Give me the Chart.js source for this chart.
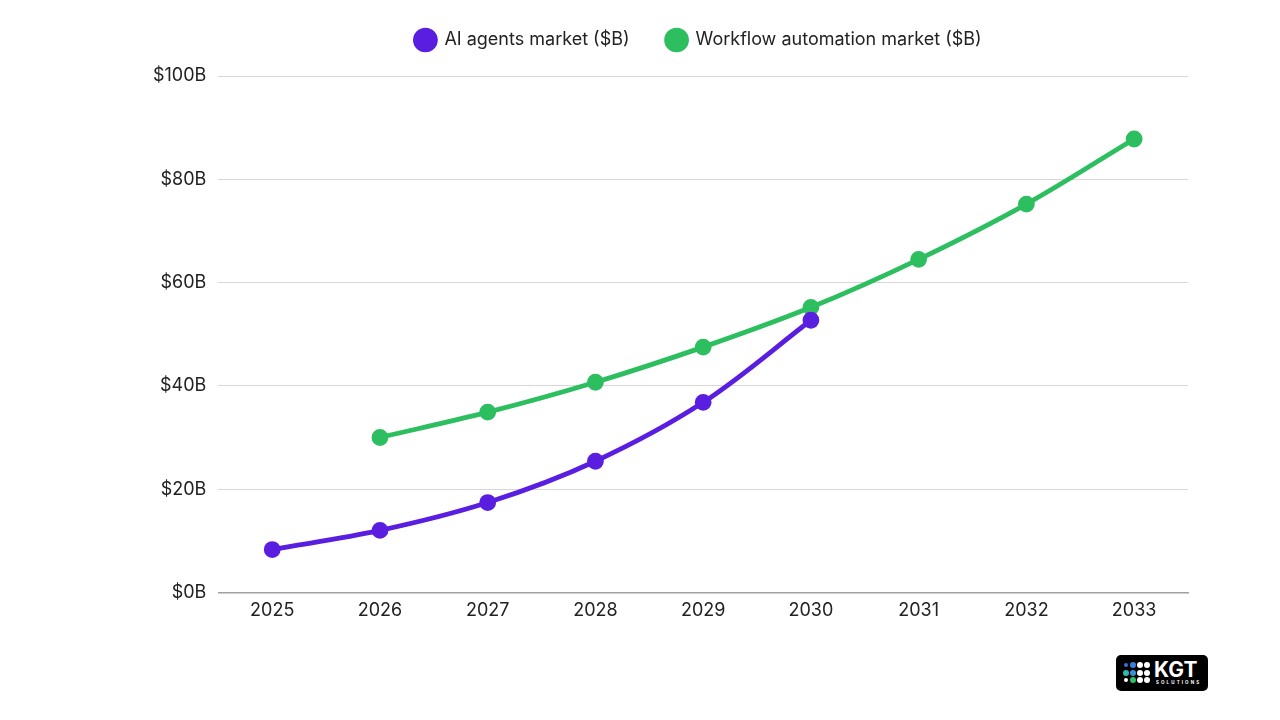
<!DOCTYPE html>
<html>
<head>
<meta charset="utf-8">
<script src="https://cdn.jsdelivr.net/npm/chart.js@4"></script>
<style>
  html,body{margin:0;padding:0;background:#fff;}
  #wrap{position:absolute;left:0;top:0;width:1280px;height:720px;}
  #logo{position:absolute;left:1116px;top:655px;width:92px;height:36px;background:#000;border-radius:5px;
    font-family:Inter, "DejaVu Sans", sans-serif;color:#fff;}
  #logo .dots{position:absolute;left:7px;top:7px;width:28px;height:22px;}
  #logo .dots span{position:absolute;width:6px;height:6px;border-radius:50%;background:#fff;}
  #logo .k{position:absolute;left:38px;top:4px;font-size:21px;font-weight:700;letter-spacing:0px;line-height:22px;}
  #logo .s{position:absolute;left:40px;top:25px;font-size:4.5px;font-weight:700;letter-spacing:2.1px;line-height:6px;}
</style>
</head>
<body>
<div id="wrap"><canvas id="c" width="1280" height="720"></canvas></div>
<div id="logo">
  <div class="dots">
    <span style="left:1px;top:1px;width:4px;height:4px;background:#3a6fd8"></span><span style="left:7px;top:0;background:#3a7fe0"></span><span style="left:14px;top:0"></span><span style="left:21px;top:0"></span>
    <span style="left:0;top:8px;background:#2eb8b0"></span><span style="left:7px;top:8px;background:#3a8fd8"></span><span style="left:14px;top:8px"></span><span style="left:21px;top:8px"></span>
    <span style="left:1px;top:16px;width:4px;height:4px"></span><span style="left:7px;top:15px;background:#2ec06a"></span><span style="left:14px;top:15px"></span><span style="left:21px;top:15px"></span>
  </div>
  <div class="k">KGT</div>
  <div class="s">SOLUTIONS</div>
</div>
<script>
const years = ["2025","2026","2027","2028","2029","2030","2031","2032","2033"];
const aiAgents = [8.3, 12.0, 17.4, 25.4, 36.8, 52.7, null, null, null];
const workflow = [null, 30.0, 34.9, 40.7, 47.5, 55.2, 64.5, 75.2, 87.8];
const seriesNames = ["AI agents market ($B)", "Workflow automation market ($B)"];
const yTicks = [0, 20, 40, 60, 80, 100];

const purple = "#5A1EE0";
const green = "#2DBE60";
const fontFam = "Inter, 'DejaVu Sans', sans-serif";

const legendAdjust = {
  id: 'legendAdjust',
  beforeInit(chart) {
    const lg = chart.legend;
    const origFit = lg.fit;
    lg.fit = function () {
      origFit.call(lg);
      this.height += 19;
    };
    const origDraw = lg.draw;
    lg.draw = function () {
      const ctx = chart.ctx;
      ctx.save();
      ctx.translate(34, 2);
      origDraw.call(lg);
      ctx.restore();
    };
  }
};

new Chart(document.getElementById('c'), {
  type: 'line',
  data: {
    labels: years,
    datasets: [
      {label: seriesNames[0], data: aiAgents, borderColor: purple, backgroundColor: purple,
       pointBackgroundColor: purple, pointBorderColor: purple, borderWidth: 4.8, pointRadius: 6, tension: 0.35, spanGaps: false},
      {label: seriesNames[1], data: workflow, borderColor: green, backgroundColor: green,
       pointBackgroundColor: green, pointBorderColor: green, borderWidth: 4.8, pointRadius: 6, tension: 0.35, spanGaps: false}
    ]
  },
  plugins: [legendAdjust],
  options: {
    responsive: false,
    animation: false,
    devicePixelRatio: 1,
    layout: {padding: {left: 141, right: 92, top: -8, bottom: 92}},
    plugins: {
      legend: {
        position: 'top',
        labels: {usePointStyle: true, pointStyle: 'circle', pointStyleWidth: 20, boxHeight: 14, padding: 37,
          color: '#222', font: {family: fontFam, size: 18}}
      },
      tooltip: {enabled: false}
    },
    scales: {
      x: {
        offset: true,
        grid: {display: false, drawTicks: false, tickLength: 0},
        border: {display: true, color: '#a0a0a0', width: 1.5},
        ticks: {color: '#222', font: {family: fontFam, size: 18}, padding: 7}
      },
      y: {
        min: 0, max: 100,
        afterBuildTicks: (axis) => { axis.ticks = yTicks.map(v => ({value: v})); },
        grid: {color: '#d8d8d8', drawTicks: false, lineWidth: 1},
        border: {display: false},
        ticks: {color: '#222', font: {family: fontFam, size: 18}, padding: 12,
          callback: (v) => '$' + v + 'B'}
      }
    }
  }
});
</script>
</body>
</html>
